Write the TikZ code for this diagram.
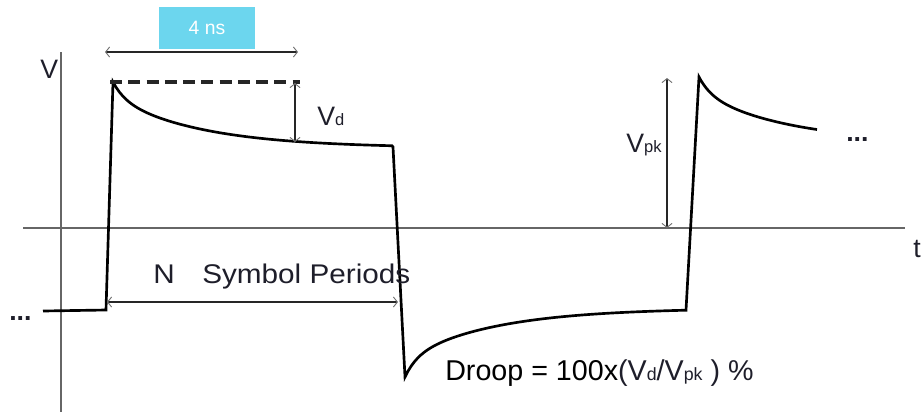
\documentclass[tikz,border=0pt]{standalone}
\usepackage{fontspec}
\setmainfont{Liberation Sans}
\usepackage{graphicx}
\usetikzlibrary{arrows.meta}
\definecolor{txt}{HTML}{1E1E2A}
\definecolor{boxc}{HTML}{6CD6EE}
\newcommand\subs[1]{\scalebox{0.62}{#1}}
\newcommand\fs[1]{\fontsize{#1}{#1}\selectfont}
\begin{document}
\begin{tikzpicture}[x=0.75pt,y=-0.75pt,
  >={Straight Barb[length=3pt,width=7.5pt,line width=0.7pt,color=black!55]},
  axisline/.style={draw=black!60, line width=1pt},
  wave/.style={draw=black, line width=2pt, line join=miter, miter limit=4},
  dimarrow/.style={draw=black!85, line width=1.1pt, <->},
  dashline/.style={draw=black!85, line width=2.6pt, dash pattern=on 9pt off 4.7pt},
  lbl/.style={inner sep=0pt, text=txt, font=\fs{20pt}},
  dotlbl/.style={inner sep=0pt, text=txt, font=\fs{20pt}\bfseries},
  tagbox/.style={fill=boxc, inner sep=0pt, minimum width=72pt, minimum height=31.5pt, text=white, font=\fs{14.5pt}}]
\useasboundingbox (0,0) rectangle (923,415);
% axes
\coordinate (ya-t) at (61,52);
\coordinate (ya-b) at (61,412);
\coordinate (ta-l) at (23,228);
\coordinate (ta-r) at (905,228);
\draw[axisline] (ya-t) -- (ya-b);
\draw[axisline] (ta-l) -- (ta-r);
% waveform
\coordinate (w0) at (43,311);
\coordinate (w1) at (106,310);
\coordinate (w2) at (113,82);
\coordinate (w3) at (393,147);
\coordinate (w4) at (405,377);
\coordinate (w5) at (699,77);
\draw[wave] (w0) -- (w1) -- (w2)
  -- plot[domain=113:392, samples=90, variable=\x] ({\x}, {148-50*exp(-(\x-113)/90)-16*exp(-(\x-113)/12)})
  -- (w3) -- (w4)
  -- plot[domain=405:686, samples=90, variable=\x] ({\x}, {308+50*exp(-(\x-405)/90)+19*exp(-(\x-405)/12)})
  -- (w5)
  -- plot[domain=699:817, samples=60, variable=\x] ({\x}, {143-50*exp(-(\x-699)/90)-16*exp(-(\x-699)/12)});
% dashed peak line
\coordinate (dl-a) at (110,82);
\coordinate (dl-b) at (300,82);
\draw[dashline] (dl-a) -- (dl-b);
% dimension arrows
\coordinate (ns-a) at (105,52);
\coordinate (ns-b) at (298,52);
\draw[dimarrow] (ns-a) -- (ns-b);
\coordinate (vd-a) at (295,83);
\coordinate (vd-b) at (295,142);
\draw[dimarrow] (vd-a) -- (vd-b);
\coordinate (np-a) at (107,302);
\coordinate (np-b) at (398,302);
\draw[dimarrow] (np-a) -- (np-b);
\coordinate (pk-a) at (667,78);
\coordinate (pk-b) at (667,228);
\draw[dimarrow] (pk-a) -- (pk-b);
% labels
\node[tagbox] (ns) at (207,28) {4 ns};
\node[lbl, anchor=base west] (vlab) at (40,78) {V};
\node[lbl, anchor=base west] (tlab) at (913,257) {t};
\node[dotlbl, anchor=base west] (dotsl) at (9,320) {...};
\node[dotlbl, anchor=base west] (dotsr) at (846,141) {...};
\node[lbl, anchor=base west] (vd) at (317,125) {V\subs{d}};
\node[lbl, anchor=base west] (vpk) at (626,152) {V\subs{pk}};
\node[lbl, anchor=base west, font=\fs{20.25pt}] (nsp) at (153,283) {\scalebox{1.1}[1]{N\hspace{18.8pt}Symbol Periods}};
\node[lbl, anchor=base west, font=\fs{21.5pt}] (droop) at (445,380) {{\color{black}Droop = 100x}(V\subs{d}/V\subs{pk} ) \%};
\end{tikzpicture}
\end{document}
